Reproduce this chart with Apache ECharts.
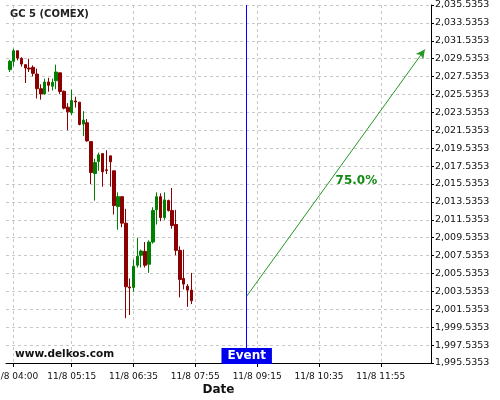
<!DOCTYPE html>
<html><head><meta charset="utf-8">
<script src="https://cdn.jsdelivr.net/npm/echarts@6/dist/echarts.min.js"></script>
<style>html,body{margin:0;padding:0;background:#fff}#c{width:500px;height:400px}</style>
</head><body><div id="c"></div>
<script>
const times = ['03:55','04:00','04:05','04:10','04:15','04:20','04:25','04:30','04:35','04:40','04:45','04:50','04:55',
 '05:00','05:05','05:10','05:15','05:20','05:25','05:30','05:35','05:40','05:45','05:50','05:55',
 '06:00','06:05','06:10','06:15','06:20','06:25','06:30','06:35','06:40','06:45','06:50','06:55',
 '07:00','07:05','07:10','07:15','07:20','07:25','07:30','07:35','07:40','07:45','07:50'];
const opens = [2028.31,2029.24,2030.42,2029.57,2028.87,2028.49,2028.57,2027.82,2026.18,2025.60,2026.93,2026.46,2027.07,2027.96,2025.90,2024.12,2023.49,2024.81,2024.68,2022.23,2022.38,2020.27,2016.71,2018.05,2018.93,2017.12,2018.68,2017.01,2013.01,2014.12,2011.16,2004.03,2003.98,2006.46,2007.57,2008.01,2006.57,2009.05,2012.65,2014.12,2011.79,2013.68,2012.57,2011.01,2008.12,2004.98,2004.12,2003.68];
const closes = [2029.24,2030.42,2029.60,2028.94,2028.49,2028.38,2027.90,2026.18,2025.60,2026.93,2026.57,2026.90,2028.05,2025.87,2024.01,2023.60,2024.87,2024.70,2022.18,2022.68,2020.35,2016.82,2017.93,2018.79,2016.90,2017.05,2018.01,2013.12,2014.12,2011.16,2004.05,2003.92,2006.35,2007.46,2008.05,2006.46,2009.05,2012.57,2014.12,2011.79,2013.76,2012.57,2010.90,2008.12,2004.87,2004.35,2003.68,2002.49];
const lows = [2028.05,2028.68,2029.35,2028.65,2026.82,2028.05,2027.57,2025.09,2024.96,2025.53,2025.85,2025.98,2026.13,2025.57,2023.87,2021.54,2023.24,2024.07,2022.09,2020.90,2020.27,2015.54,2013.68,2017.01,2015.24,2016.65,2015.24,2012.12,2010.42,2010.71,2000.54,2000.90,2003.49,2006.20,2006.20,2006.20,2005.60,2008.87,2011.01,2011.38,2011.53,2012.46,2010.54,2007.57,2002.87,2003.76,2001.82,2002.12];
const highs = [2029.42,2030.65,2030.46,2029.71,2028.87,2029.54,2028.79,2028.43,2026.68,2027.31,2027.40,2027.31,2028.87,2027.96,2025.98,2024.57,2026.07,2025.29,2024.68,2023.68,2022.79,2020.27,2018.35,2019.05,2018.93,2019.31,2018.68,2017.01,2014.60,2014.12,2012.76,2004.98,2007.09,2009.53,2008.20,2009.05,2009.24,2012.94,2014.60,2014.49,2014.60,2013.79,2015.09,2012.65,2008.57,2008.20,2004.35,2005.60];

const tickTimes = ['04:00','05:15','06:35','07:55','09:15','10:35','11:55'];
const tickLabels = ['11/8 04:00','11/8 05:15','11/8 06:35','11/8 07:55','11/8 09:15','11/8 10:35','11/8 11:55'];
const axisStart = '03:50', axisEnd = '13:00';
const yTicks = [1995.5353,1997.5353,1999.5353,2001.5353,2003.5353,2005.5353,2007.5353,2009.5353,2011.5353,2013.5353,
  2015.5353,2017.5353,2019.5353,2021.5353,2023.5353,2025.5353,2027.5353,2029.5353,2031.5353,2033.5353,2035.5353];
const yTickLabels = ['1,995.5353','1,997.5353','1,999.5353','2,001.5353','2,003.5353','2,005.5353','2,007.5353','2,009.5353','2,011.5353','2,013.5353',
  '2,015.5353','2,017.5353','2,019.5353','2,021.5353','2,023.5353','2,025.5353','2,027.5353','2,029.5353','2,031.5353','2,033.5353','2,035.5353'];

const eventTime = '09:01:30';
const eventLabel = 'Event';
const arrowTimes = ['09:01:30','12:52'];
const arrowValues = [2003.0, 2030.57];
const arrowLabel = '75.0%';
const arrowLabelAt = ['10:55:48', 2015.9];
const title = 'GC 5 (COMEX)';
const watermark = 'www.delkos.com';
const xName = 'Date';

function mins(t){const p=t.split(':').map(Number);return p[0]*60+p[1]+(p[2]||0)/60;}

const tickMins = tickTimes.map(mins);
const candleData = times.map((t,i)=>[mins(t),opens[i],closes[i],lows[i],highs[i]]);
const RED='#8b0000', GREEN='#008000';
const FONT='DejaVu Sans';
const GRID={color:'#c8c8c8',type:[3,3],width:1};

const chart = echarts.init(document.getElementById('c'),null,{renderer:'canvas'});
chart.setOption({
  animation:false,
  backgroundColor:'#fff',
  title:{text:title,left:10,top:9,padding:0,textStyle:{fontFamily:FONT,fontSize:10,fontWeight:'bold',color:'#222'}},
  grid:{left:6,right:69,top:5,bottom:37,containLabel:false,outerBoundsMode:'none'},
  xAxis:{type:'value',min:mins(axisStart),max:mins(axisEnd),
    axisLine:{show:true,onZero:false,lineStyle:{color:'#000',width:1}},
    axisTick:{show:true,length:4,customValues:tickMins,lineStyle:{color:'#000'}},
    axisLabel:{customValues:tickMins,fontFamily:FONT,fontSize:9,color:'#111',margin:9,hideOverlap:false,
      formatter:v=>{const k=tickMins.findIndex(m=>Math.abs(m-v)<0.01);return k>=0?tickLabels[k]:'';}},
    splitLine:{show:true,lineStyle:GRID}
  },
  yAxis:{type:'value',position:'right',min:yTicks[0],max:yTicks[yTicks.length-1],
    axisLine:{show:true,lineStyle:{color:'#000',width:1}},
    axisTick:{show:true,length:3,customValues:yTicks,lineStyle:{color:'#000'}},
    axisLabel:{customValues:yTicks,fontFamily:FONT,fontSize:9.5,color:'#111',margin:4,
      formatter:v=>{const k=yTicks.findIndex(m=>Math.abs(m-v)<1e-6);return k>=0?yTickLabels[k]:'';}},
    splitLine:{show:true,lineStyle:GRID}
  },
  graphic:[
    {type:'text',left:15,top:349,style:{text:watermark,font:'bold 10.5px "DejaVu Sans"',fill:'#111'}},
    {type:'text',x:218.5,y:390,style:{text:xName,font:'bold 12px "DejaVu Sans"',fill:'#111',align:'center',verticalAlign:'middle'}}
  ],
  series:[
    {type:'candlestick',data:candleData,barWidth:3,
      itemStyle:{color:GREEN,color0:RED,borderColor:GREEN,borderColor0:RED,borderWidth:1},
      markLine:{silent:true,symbol:'none',label:{show:false},
        lineStyle:{color:'#0000ff',width:1,type:'solid',opacity:1},
        data:[{xAxis:mins(eventTime),lineStyle:{color:'#0000ff'}}]},
      markPoint:{silent:true,symbol:'circle',symbolSize:1,itemStyle:{color:'rgba(0,0,0,0)'},
        data:[
          {coord:[mins(eventTime),yTicks[0]],label:{show:true,position:'top',distance:0,offset:[0,1.5],formatter:eventLabel,
            backgroundColor:'#0000ee',color:'#fff',fontFamily:FONT,fontWeight:'bold',fontSize:12,lineHeight:14,padding:[1,6,1,6]}},
          {coord:[mins(arrowLabelAt[0]),arrowLabelAt[1]],label:{show:true,position:'right',distance:0,formatter:arrowLabel,
            color:'#138a13',fontFamily:FONT,fontWeight:'bold',fontSize:12}}
        ]}
    },
    {type:'line',data:[],silent:true,
      markLine:{silent:true,symbol:['none','arrow'],symbolSize:[7,9],label:{show:false},
        lineStyle:{color:'#229922',width:1,type:'solid'},
        data:[[{coord:[mins(arrowTimes[0]),arrowValues[0]]},{coord:[mins(arrowTimes[1]),arrowValues[1]]}]]}
    }
  ]
});
</script></body></html>
